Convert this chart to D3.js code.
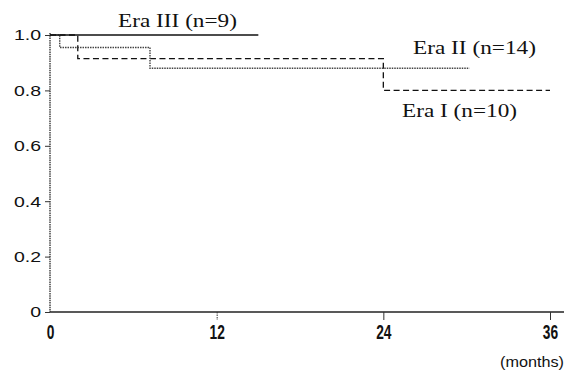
<!DOCTYPE html>
<html>
<head>
<meta charset="utf-8">
<script src="https://cdn.jsdelivr.net/npm/d3@7"></script>
<style>
  html, body { margin: 0; padding: 0; background: #fff; }
  svg { display: block; }
</style>
</head>
<body>
<div id="chart"></div>
<script>
// survival step data (months, proportion surviving)
const eraITimes = [0, 2, 24, 36];
const eraISurvival = [1, 0.915, 0.8, 0.8];
const eraIITimes = [0, 0.7, 7.2, 30.2];
const eraIISurvival = [1, 0.955, 0.88, 0.88];
const eraIIITimes = [0, 15];
const eraIIISurvival = [1, 1];

const xTicks = [0, 12, 24, 36];
const yTicks = [0, 0.2, 0.4, 0.6, 0.8, 1.0];
const yTickLabels = ["0", "0.2", "0.4", "0.6", "0.8", "1.0"];

const seriesNames = ["Era I (n=10)", "Era II (n=14)", "Era III (n=9)"];

const width = 572;
const height = 372;

const x = d3.scaleLinear([0, 36], [50, 550]);
const y = d3.scaleLinear([0, 1], [312, 35]);

const series = [
  { name: seriesNames[0], times: eraITimes, values: eraISurvival, stroke: "#111", dash: "6 3.5", width: 1.3,
    label: { x: 402, y: 117, len: 115, size: 18.5 } },
  { name: seriesNames[1], times: eraIITimes, values: eraIISurvival, stroke: "#444", dash: "1.5 1", width: 1.4,
    label: { x: 413, y: 54, len: 123, size: 18 } },
  { name: seriesNames[2], times: eraIIITimes, values: eraIIISurvival, stroke: "#111", dash: null, width: 1.5,
    label: { x: 118, y: 27, len: 119, size: 18 } }
];

const svg = d3.select("#chart").append("svg")
  .attr("width", width)
  .attr("height", height);

// y axis
const yAxis = svg.append("g")
  .attr("transform", `translate(${x(0)},0)`)
  .call(d3.axisLeft(y).tickValues(yTicks).tickSize(5).tickFormat((d, i) => yTickLabels[i]));
yAxis.select(".domain")
  .attr("d", `M0,${y(1) - 2}V${y(0)}`)
  .attr("stroke", "#444")
  .attr("stroke-width", 1.5)
  .attr("stroke-dasharray", "1.5 0.8");
yAxis.selectAll(".tick line").attr("stroke", "#333");
yAxis.selectAll(".tick text")
  .attr("x", 0)
  .attr("transform", "translate(-9,0) scale(1.3,1)")
  .attr("font-family", "Liberation Sans, Arial, sans-serif")
  .attr("font-size", 15)
  .attr("fill", "#111");

// x axis
const xAxis = svg.append("g")
  .attr("transform", `translate(0,${y(0)})`)
  .call(d3.axisBottom(x).tickValues(xTicks).tickSize(8).tickFormat(d3.format("d")));
xAxis.select(".domain")
  .attr("d", `M${x(0)},0H${x(36) + 14}`)
  .attr("stroke", "#222")
  .attr("stroke-width", 1.4);
xAxis.selectAll(".tick line")
  .attr("stroke", "#333")
  .attr("stroke-dasharray", d => d === 12 ? "1.5 1" : null);
xAxis.selectAll(".tick line").filter(d => d === 0).remove();
xAxis.selectAll(".tick text")
  .attr("y", 0)
  .attr("dy", null)
  .attr("transform", "translate(0,27) scale(0.95,1.35)")
  .attr("font-family", "Liberation Sans, Arial, sans-serif")
  .attr("font-size", 14.5)
  .attr("font-weight", "bold")
  .attr("fill", "#111");

svg.append("text")
  .attr("x", 564)
  .attr("y", 367)
  .attr("text-anchor", "end")
  .attr("font-family", "Liberation Sans, Arial, sans-serif")
  .attr("font-size", 14)
  .attr("textLength", 64)
  .attr("lengthAdjust", "spacingAndGlyphs")
  .attr("fill", "#111")
  .text("(months)");

// curves
const line = d3.line()
  .x(d => x(d[0]))
  .y(d => y(d[1]))
  .curve(d3.curveStepAfter);

svg.selectAll(".curve")
  .data(series)
  .join("path")
  .attr("class", "curve")
  .attr("fill", "none")
  .attr("stroke", d => d.stroke)
  .attr("stroke-width", d => d.width)
  .attr("stroke-dasharray", d => d.dash)
  .attr("d", d => line(d.times.map((t, i) => [t, d.values[i]])));

svg.selectAll(".label")
  .data(series)
  .join("text")
  .attr("class", "label")
  .attr("x", d => d.label.x)
  .attr("y", d => d.label.y)
  .attr("font-family", "Liberation Serif, Times New Roman, serif")
  .attr("font-size", d => d.label.size)
  .attr("textLength", d => d.label.len)
  .attr("lengthAdjust", "spacingAndGlyphs")
  .attr("fill", "#111")
  .text(d => d.name);
</script>
</body>
</html>
